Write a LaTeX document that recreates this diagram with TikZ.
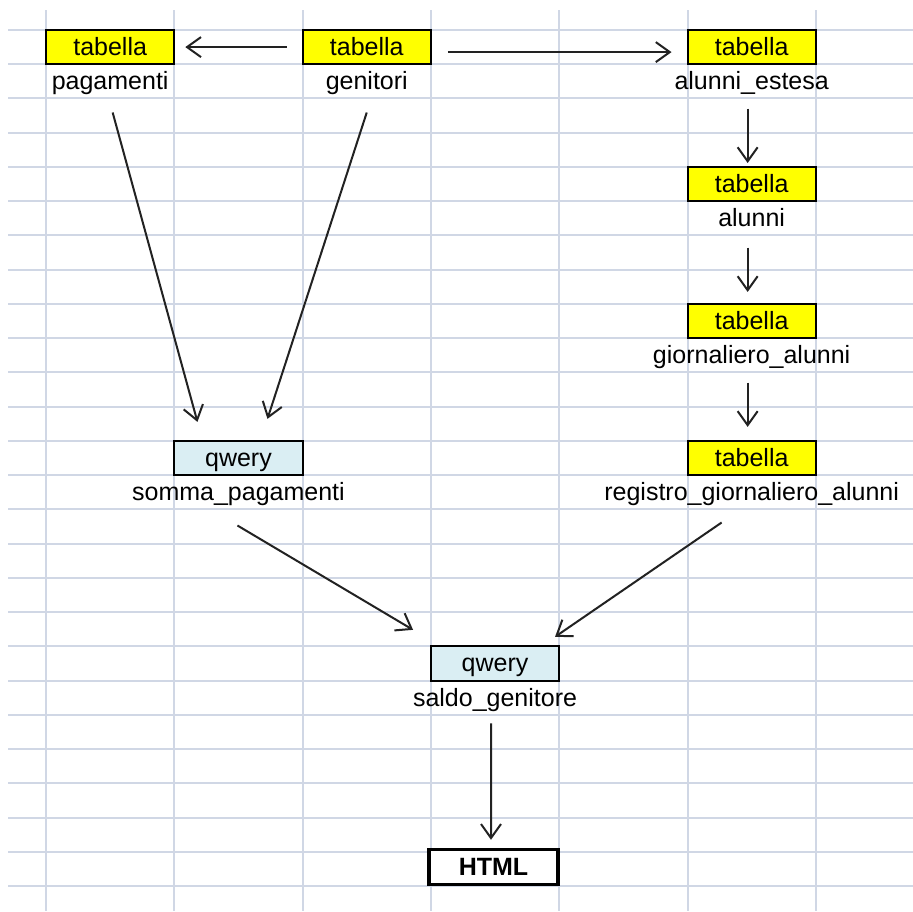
\documentclass[tikz,border=0pt]{standalone}
\usepackage{fontspec}
\setmainfont{Liberation Sans}
\usetikzlibrary{arrows.meta}
\definecolor{gridc}{HTML}{D0D7E5}
\definecolor{tabfill}{HTML}{FFFF00}
\definecolor{qwfill}{HTML}{DAEEF3}
\definecolor{arrc}{HTML}{222222}
\tikzset{
  cellbox/.style={draw=black, line width=2pt, minimum width=128.3pt, minimum height=34.24pt,
    inner sep=0pt, text height=17pt, text depth=0pt, font=\fontsize{25}{30}\selectfont},
  tabbox/.style={cellbox, fill=tabfill},
  qwbox/.style={cellbox, fill=qwfill},
  htmlbox/.style={draw=black, line width=3.5pt, fill=white, minimum width=129pt, minimum height=35pt,
    inner sep=0pt, text height=17pt, text depth=0pt, font=\fontsize{25}{30}\selectfont\bfseries},
  lbl/.style={inner sep=0pt, text height=17pt, text depth=0pt, font=\fontsize{25}{30}\selectfont},
  conn/.style={draw=arrc, line width=2pt, -{Straight Barb[length=14pt,width=20pt]}},
  gridline/.style={draw=gridc, line width=2pt}
}
\begin{document}
\begin{tikzpicture}[x=1pt,y=-1pt]
\useasboundingbox (0,0) rectangle (913,911);
\fill[white] (0,0) rectangle (913,911);
% spreadsheet grid
\foreach \k in {0,...,25} {
  \draw[gridline] (8,{30+34.24*\k}) -- (913,{30+34.24*\k});
}
\foreach \k in {0,...,6} {
  \draw[gridline] ({46+128.3*\k},10) -- ({46+128.3*\k},911);
}
% boxes
\node[tabbox] (pag) at (110.15,47.1) {tabella};
\node[tabbox] (gen) at (366.75,47.1) {tabella};
\node[tabbox] (ale) at (751.65,47.1) {tabella};
\node[tabbox] (alu) at (751.65,184.1) {tabella};
\node[tabbox] (gio) at (751.65,321.05) {tabella};
\node[tabbox] (reg) at (751.65,458) {tabella};
\node[qwbox] (som) at (238.45,458) {qwery};
\node[qwbox] (sal) at (495.05,663.45) {qwery};
\node[htmlbox] (html) at (493.5,867) {HTML};
% labels
\node[lbl] (pag-l) at (110.15,81.3) {pagamenti};
\node[lbl] (gen-l) at (366.75,81.3) {genitori};
\node[lbl] (ale-l) at (751.65,81.3) {alunni\_estesa};
\node[lbl] (alu-l) at (751.65,218.3) {alunni};
\node[lbl] (gio-l) at (751.65,355.3) {giornaliero\_alunni};
\node[lbl] (reg-l) at (751.65,492.3) {registro\_giornaliero\_alunni};
\node[lbl] (som-l) at (238.45,492.3) {somma\_pagamenti};
\node[lbl] (sal-l) at (495.05,697.7) {saldo\_genitore};
% connectors
\draw[conn] ([xshift=-15pt]gen.west) -- ([xshift=10pt]pag.east);
\draw[conn] ([xshift=16pt,yshift=-5pt]gen.east) -- ([xshift=-15pt,yshift=-5pt]ale.west);
\draw[conn] ([xshift=2.5pt,yshift=-22.5pt]pag-l.south) -- ([xshift=-41pt,yshift=18pt]som.north);
\draw[conn] ([yshift=-22.5pt]gen-l.south) -- ([xshift=29pt,yshift=21pt]som.north);
\draw[conn] ([xshift=-4pt,yshift=-18.5pt]ale-l.south) -- ([xshift=-4pt,yshift=3pt]alu.north);
\draw[conn] ([xshift=-4pt,yshift=-20.5pt]alu-l.south) -- ([xshift=-4pt,yshift=11pt]gio.north);
\draw[conn] ([xshift=-4pt,yshift=-18.5pt]gio-l.south) -- ([xshift=-4pt,yshift=13pt]reg.north);
\draw[conn] ([xshift=-1pt,yshift=-24.5pt]som-l.south) -- ([xshift=-82pt,yshift=15.5pt]sal.north);
\draw[conn] ([xshift=-30pt,yshift=-21.5pt]reg-l.south) -- ([xshift=60pt,yshift=8.5pt]sal.north);
\draw[conn] ([xshift=-4pt,yshift=-17pt]sal-l.south) -- ([xshift=-2.5pt,yshift=8pt]html.north);
\end{tikzpicture}
\end{document}
